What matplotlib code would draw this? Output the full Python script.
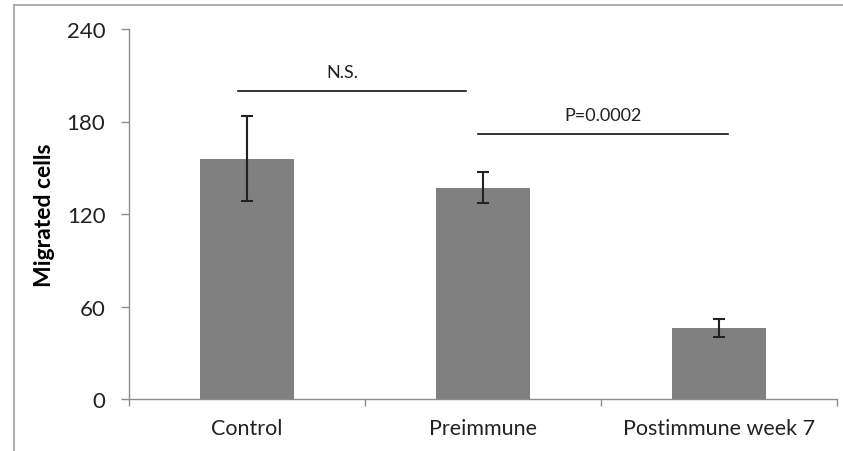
import matplotlib
matplotlib.use("Agg")
import matplotlib.pyplot as plt
from matplotlib.lines import Line2D
import numpy as np

categories = ["Control", "Preimmune", "Postimmune week 7"]
values = [156, 137, 46]
errors = [27.5, 10, 6]
yticks = [0, 60, 120, 180, 240]
ylabel = "Migrated cells"
sig_labels = ["N.S.", "P=0.0002"]
sig_y = [200, 172]
sig_x = [(-0.04, 0.93), (0.98, 2.04)]

plt.rcParams['font.family'] = ['Lato', 'DejaVu Sans']

fig = plt.figure(figsize=(8.43, 4.52), dpi=100)
ax = fig.add_axes([129/843, 52/452, (837-129)/843, 370/452])

x = np.arange(len(categories))
ax.bar(x, values, width=0.4, color="#808080", zorder=2)
ax.errorbar(x, values, yerr=errors, fmt="none", ecolor="#222222",
            elinewidth=1.5, capsize=4.5, capthick=1.5, zorder=3)

ax.set_xlim(-0.5, 2.5)
ax.set_ylim(0, 240)
ax.set_yticks(yticks)
ax.set_xticks(x)
ax.set_xticklabels(categories, fontsize=15.5)
ax.set_xticks([-0.5, 0.5, 1.5, 2.5], minor=True)
ax.tick_params(axis='x', which='major', length=0, pad=14, colors="#222222")
ax.tick_params(axis='x', which='minor', length=5, color="#8c8c8c", width=1)
ax.tick_params(axis='y', length=6, color="#8c8c8c", width=1, pad=11,
               labelsize=16, labelcolor="#222222")
for s in ["top", "right"]:
    ax.spines[s].set_visible(False)
for s in ["left", "bottom"]:
    ax.spines[s].set_color("#8c8c8c")
    ax.spines[s].set_linewidth(1)
ax.set_ylabel(ylabel, fontsize=16.5, fontweight="bold")
ax.yaxis.set_label_coords(-0.104, 0.5)

for lab, yv, (x0, x1) in zip(sig_labels, sig_y, sig_x):
    ax.plot([x0, x1], [yv, yv], color="#111111", lw=1.2, clip_on=False)
    ax.text((x0 + x1) / 2 - (0.04 if lab == "N.S." else 0), yv + 7, lab,
            ha="center", va="bottom", fontsize=13, color="#222222")

# outer frame of the figure (top and left edges visible)
fig.add_artist(Line2D([14/843, 1], [1 - 6/452, 1 - 6/452], color="#a0a0a0", lw=1.2,
                      transform=fig.transFigure))
fig.add_artist(Line2D([14/843, 14/843], [0, 1 - 6/452], color="#a0a0a0", lw=1.2,
                      transform=fig.transFigure))

fig.savefig("out.png", dpi=100)
